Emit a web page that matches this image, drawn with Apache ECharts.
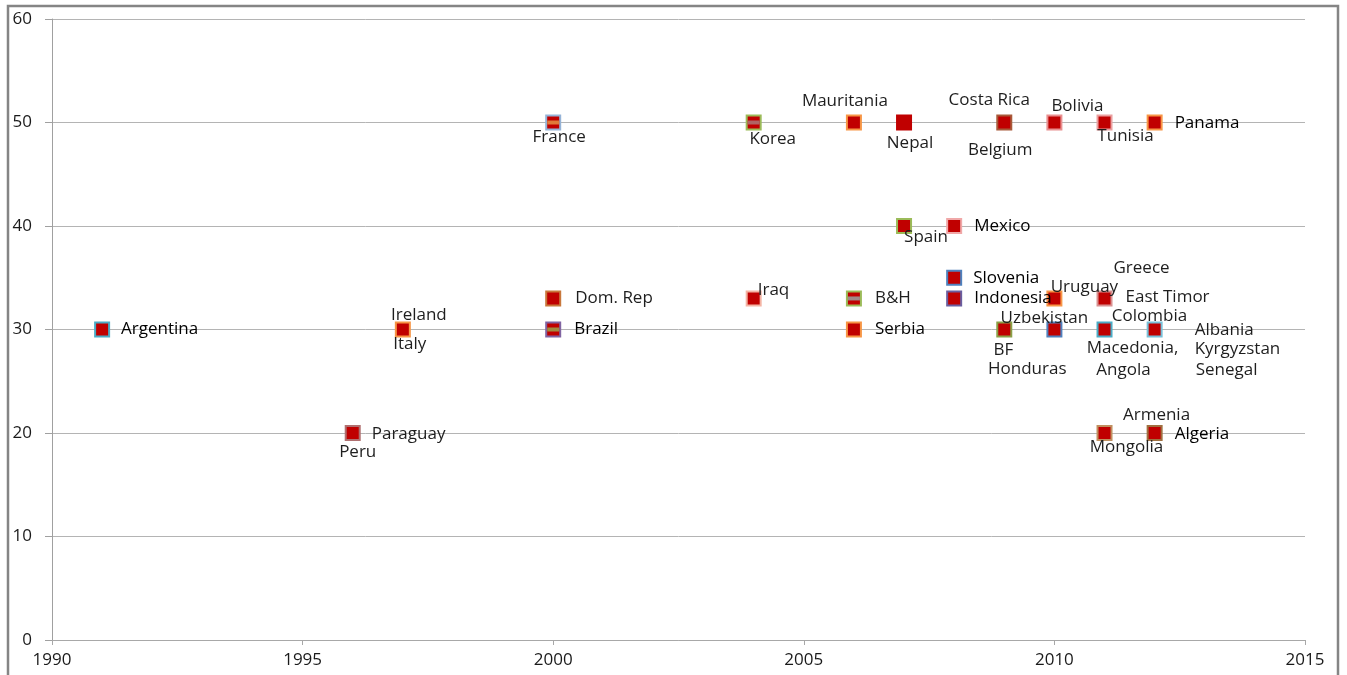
<!DOCTYPE html>
<html>
<head>
<meta charset="utf-8">
<script src="https://cdn.jsdelivr.net/npm/echarts@6/dist/echarts.min.js"></script>
<style>
  html, body { margin: 0; padding: 0; background: #fff; }
  #chart { width: 1347px; height: 675px; }
</style>
</head>
<body>
<div id="chart"></div>
<script>
// Marker positions: year of adoption and threshold value
const pointYears  = [1991, 1996, 1997, 2000, 2000, 2000, 2004, 2004, 2006, 2006, 2006, 2007, 2007, 2008, 2008, 2008, 2009, 2009, 2010, 2010, 2010, 2011, 2011, 2011, 2011, 2012, 2012, 2012];
const pointValues = [30,   20,   30,   50,   33,   30,   50,   33,   50,   33,   30,   50,   40,   40,   35,   33,   50,   30,   50,   33,   30,   50,   33,   30,   20,   50,   30,   20];
const pointBorders = ['#4bacc6', '#b07070', '#f79646', '#95b3d7', '#c8783c', '#8064a2', '#9bbb59', '#f4b4a4',
                      '#f79646', '#9bbb59', '#f79646', '#c00000', '#9bbb59', '#f0a8a8', '#4f81bd', '#6a5fa0',
                      '#a85a3a', '#8aa048', '#e89090', '#f79646', '#4f81bd', '#eaa0a0', '#d89090', '#4bacc6',
                      '#c09060', '#f79646', '#78c0d8', '#a07040'];

// Country labels and the point each belongs to
const labelNames  = ['Argentina', 'Paraguay', 'Peru', 'Ireland', 'Italy', 'France', 'Dom. Rep', 'Brazil',
                     'Korea', 'Iraq', 'Mauritania', 'B&H', 'Serbia', 'Nepal', 'Spain', 'Mexico',
                     'Slovenia', 'Indonesia', 'Costa Rica', 'Belgium', 'BF', 'Honduras', 'Bolivia', 'Uruguay',
                     'Uzbekistan', 'Tunisia', 'Greece', 'East Timor', 'Colombia', 'Macedonia,', 'Angola',
                     'Armenia', 'Mongolia', 'Panama', 'Albania', 'Kyrgyzstan', 'Senegal', 'Algeria'];
const labelYears  = [1991, 1996, 1996, 1997, 1997, 2000, 2000, 2000, 2004, 2004, 2006, 2006, 2006, 2007, 2007, 2008,
                     2008, 2008, 2009, 2009, 2009, 2009, 2010, 2010, 2010, 2011, 2011, 2011, 2011, 2011, 2011,
                     2011, 2011, 2012, 2012, 2012, 2012, 2012];
const labelValues = [30, 20, 20, 30, 30, 50, 33, 30, 50, 33, 50, 33, 30, 50, 40, 40,
                     35, 33, 50, 50, 30, 30, 50, 33, 30, 50, 33, 33, 30, 30, 30,
                     20, 20, 50, 30, 30, 30, 20];

// Overlaid dash markers inside some squares
const dashYears  = [2000, 2000, 2004, 2006];
const dashValues = [50, 30, 50, 33];
const dashColors = ['#e07a3a', '#a08a40', '#b06464', '#a08888'];

const xTicks = [1990, 1995, 2000, 2005, 2010, 2015];
const yTicks = [0, 10, 20, 30, 40, 50, 60];

// Label placement relative to the marker centre: [dx, dy, align, dark]
const labelLayout = {
  'Argentina': [19, 0, 'left', 1], 'Paraguay': [19, 1, 'left', 0], 'Peru': [5, 19, 'center', 0],
  'Ireland': [16, -14, 'center', 0], 'Italy': [7, 15, 'center', 0], 'France': [6, 15, 'center', 0],
  'Dom. Rep': [22, 0, 'left', 0], 'Brazil': [21, 0, 'left', 1], 'Korea': [19, 17, 'center', 0],
  'Iraq': [4, -8, 'left', 0], 'Mauritania': [-9, -21, 'center', 0], 'B&H': [21, 0, 'left', 0],
  'Serbia': [21, 0, 'left', 1], 'Nepal': [6, 21, 'center', 0], 'Spain': [22, 11, 'center', 0],
  'Mexico': [20, 0, 'left', 1], 'Slovenia': [19, 0, 'left', 1], 'Indonesia': [20, 0, 'left', 1],
  'Costa Rica': [-15, -22, 'center', 0], 'Belgium': [-4, 28, 'center', 0], 'BF': [-1, 21, 'center', 0],
  'Honduras': [23, 40, 'center', 0], 'Bolivia': [23, -16, 'center', 0], 'Uruguay': [30, -11, 'center', 0],
  'Uzbekistan': [-10, -11, 'center', 0], 'Tunisia': [21, 14, 'center', 0], 'Greece': [37, -30, 'center', 0],
  'East Timor': [21, -1, 'left', 0], 'Colombia': [45, -13, 'center', 0], 'Macedonia,': [28, 19, 'center', 0],
  'Angola': [19, 41, 'center', 0], 'Armenia': [52, -18, 'center', 0], 'Mongolia': [22, 14, 'center', 0],
  'Panama': [20, 1, 'left', 1], 'Albania': [40, 1, 'left', 0], 'Kyrgyzstan': [40, 20, 'left', 0],
  'Senegal': [41, 41, 'left', 0], 'Algeria': [20, 1, 'left', 1]
};

const chart = echarts.init(document.getElementById('chart'), null, { renderer: 'canvas' });

const pointData = pointYears.map((yr, i) => ({
  value: [yr, pointValues[i]],
  itemStyle: { color: '#c00000', borderColor: pointBorders[i], borderWidth: 2, opacity: 1 }
}));

const dashData = dashYears.map((yr, i) => ({
  value: [yr, dashValues[i]],
  itemStyle: { color: dashColors[i], opacity: 1 }
}));

const labelData = labelNames.map((name, i) => {
  const lay = labelLayout[name];
  return {
    name: name,
    value: [labelYears[i], labelValues[i]],
    label: {
      show: true,
      position: 'inside',
      offset: [lay[0], lay[1]],
      align: lay[2],
      verticalAlign: 'middle',
      color: lay[3] ? '#000' : '#1e1e1e',
      formatter: name
    }
  };
});

const axisFont = { fontFamily: 'Open Sans', fontSize: 17, color: '#1a1a1a' };

chart.setOption({
  animation: false,
  backgroundColor: '#fff',
  graphic: [{
    type: 'rect',
    silent: true,
    shape: { x: 8, y: 6, width: 1330, height: 720 },
    style: { fill: 'none', stroke: '#858585', lineWidth: 2.5 }
  }],
  grid: { left: 52, right: 42, top: 19, bottom: 35, containLabel: false },
  xAxis: {
    type: 'value',
    min: 1990, max: 2015, interval: 5,
    axisLine: { show: true, lineStyle: { color: '#a8a8a8', width: 1 } },
    axisTick: { show: true, length: 5, lineStyle: { color: '#a8a8a8' } },
    axisLabel: Object.assign({ margin: 12, formatter: v => String(v) }, axisFont),
    splitLine: { show: false }
  },
  yAxis: {
    type: 'value',
    min: 0, max: 60, interval: 10,
    axisLine: { show: true, lineStyle: { color: '#a0a0a0', width: 1 } },
    axisTick: { show: true, length: 7, lineStyle: { color: '#a0a0a0' } },
    axisLabel: Object.assign({ margin: 20 }, axisFont),
    splitLine: { show: true, lineStyle: { color: '#b4b4b4', width: 1 } }
  },
  series: [
    {
      name: 'points',
      type: 'scatter',
      symbol: 'rect',
      symbolSize: 14,
      silent: true,
      data: pointData,
      z: 3
    },
    {
      name: 'dashes',
      type: 'scatter',
      symbol: 'rect',
      symbolSize: [12, 4],
      silent: true,
      data: dashData,
      z: 4
    },
    {
      name: 'labels',
      type: 'scatter',
      symbol: 'rect',
      symbolSize: 1,
      silent: true,
      itemStyle: { color: 'rgba(0,0,0,0)', opacity: 1 },
      label: { fontFamily: 'Open Sans', fontSize: 17 },
      data: labelData,
      z: 5
    }
  ]
});
</script>
</body>
</html>
